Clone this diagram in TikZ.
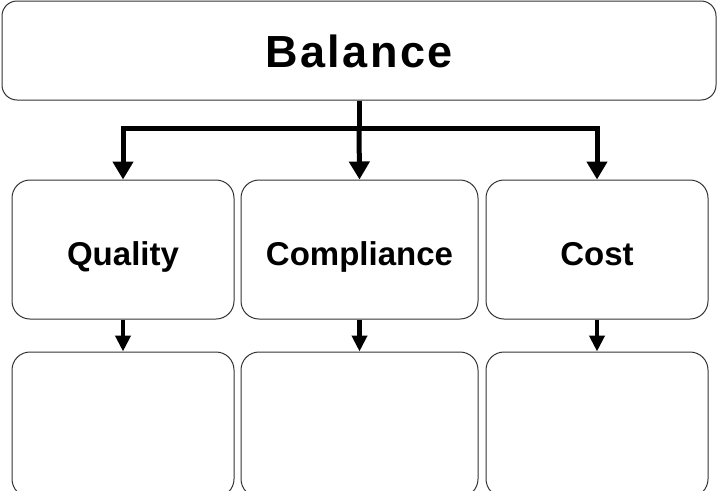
\documentclass[tikz,border=0pt]{standalone}
\usepackage{fontspec}
\setmainfont{Liberation Sans}
\usetikzlibrary{arrows.meta}

\begin{document}
\begin{tikzpicture}[x=1pt,y=-1pt,
  box/.style={draw=black!80, line width=1pt, fill=white, rounded corners=18pt,
    inner sep=0pt, align=center},
  headbox/.style={box, rounded corners=15pt, text height=33pt, text depth=0pt,
    font=\bfseries\fontsize{45}{50}\selectfont\addfontfeatures{LetterSpace=5.5}},
  itembox/.style={box, minimum width=222pt, minimum height=139pt,
    text height=31pt, text depth=0pt,
    font=\bfseries\fontsize{33}{38}\selectfont},
  emptybox/.style={box, minimum width=222pt, minimum height=145pt},
  bigarrow/.style={line width=5pt, line join=miter,
    -{Triangle[length=18pt,width=20pt]}},
  smallarrow/.style={line width=4.5pt,
    -{Triangle[length=16pt,width=15pt]}}]

  \useasboundingbox (0,0) rectangle (719,490);
  \clip (0,0) rectangle (719,490);

  % heading
  \node[headbox, minimum width=714pt, minimum height=99pt] (balance) at (359,50.5) {Balance};

  % three criteria
  \node[itembox] (quality) at (123,249.5) {Quality};
  \node[itembox, minimum width=237pt] (compliance) at (359.5,249.5) {Compliance};
  \node[itembox] (cost) at (597,249.5) {Cost};

  % empty detail boxes below each criterion
  \node[emptybox] (qdetail) at (123,424.5) {};
  \node[emptybox, minimum width=237pt] (cdetail) at (359.5,424.5) {};
  \node[emptybox] (kdetail) at (597,424.5) {};

  % branching connectors from the heading
  \coordinate (split) at (359,128);
  \draw[bigarrow] (balance.south) -- (split) -| (quality.north);
  \draw[bigarrow] (split) -| (cost.north);
  \draw[bigarrow] (split) -- (compliance.north);

  % short connectors down to the detail boxes
  \draw[smallarrow] (quality.south) -- (qdetail.north);
  \draw[smallarrow] (compliance.south) -- (cdetail.north);
  \draw[smallarrow] (cost.south) -- (kdetail.north);
\end{tikzpicture}
\end{document}
